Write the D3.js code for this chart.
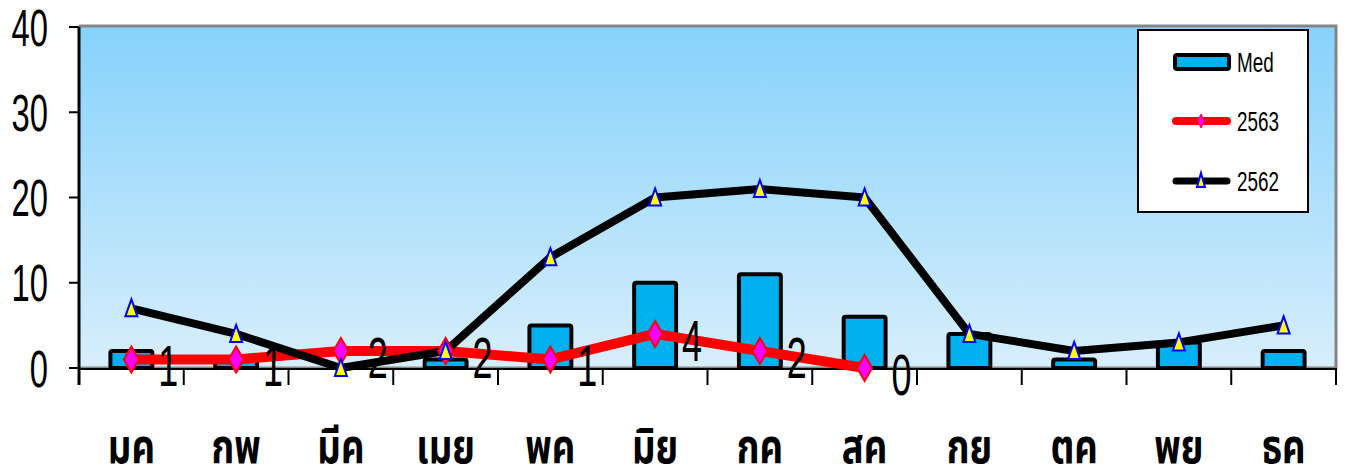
<!DOCTYPE html>
<html>
<head>
<meta charset="utf-8">
<script src="https://cdn.jsdelivr.net/npm/d3@7"></script>
<style>
  body { margin: 0; background: #fff; }
  svg { display: block; }
</style>
</head>
<body>
<script>
// ____ data
var months = ['มค', 'กพ', 'มีค', 'เมย', 'พค', 'มิย', 'กค', 'สค', 'กย', 'ตค', 'พย', 'ธค']
var med = [2, 1, 0, 1, 5, 10, 11, 6, 4, 1, 3, 2]
var y2563 = [1, 1, 2, 2, 1, 4, 2, 0]
var y2562 = [7, 4, 0, 2, 13, 20, 21, 20, 4, 2, 3, 5]
var yTicks = [0, 10, 20, 30, 40]
var legendItems = ['Med', '2563', '2562']

var width = 1345, height = 476
var plotLeft = 79, plotRight = 1336, plotTop = 27, plotBottom = 368
var numFont = '"Liberation Sans", Arial, sans-serif'

var svg = d3.select('body').append('svg')
    .attr('width', width)
    .attr('height', height)

var defs = svg.append('defs')
var grad = defs.append('linearGradient')
    .attr('id', 'bg')
    .attr('x1', 0).attr('y1', 0).attr('x2', 0).attr('y2', 1)
grad.append('stop').attr('offset', '0%').attr('stop-color', '#86d2fb')
grad.append('stop').attr('offset', '100%').attr('stop-color', '#d8eefc')

var x = d3.scaleBand()
    .domain(months)
    .range([plotLeft, plotRight])
    .paddingInner(0.6)
    .paddingOuter(0.3)
var step = x.step()
var cx = function (m) { return x(m) + x.bandwidth() / 2 }

var y = d3.scaleLinear()
    .domain([0, 40])
    .range([plotBottom, plotTop])

// plot area
svg.append('rect')
    .attr('x', plotLeft).attr('y', plotTop)
    .attr('width', plotRight - plotLeft).attr('height', plotBottom - plotTop)
    .style('fill', 'url(#bg)')

// gray frame top / right / bottom
svg.append('path')
    .attr('d', 'M' + plotLeft + ',' + (plotTop - 1) + 'H' + plotRight + 'V' + plotBottom + 'H' + plotLeft)
    .attr('fill', 'none')
    .attr('stroke', '#858585')
    .attr('stroke-width', 3)

// bars (zero months get no bar)
var barData = med.map(function (v, i) { return { m: months[i], v: v } })
    .filter(function (d) { return d.v > 0 })

svg.append('g').selectAll('rect')
    .data(barData)
  .enter().append('rect')
    .attr('x', function (d) { return x(d.m) })
    .attr('y', function (d) { return y(d.v) })
    .attr('width', x.bandwidth())
    .attr('height', function (d) { return plotBottom - y(d.v) })
    .attr('rx', 2)
    .style('fill', '#00b0ef')
    .style('stroke', '#000')
    .style('stroke-width', 4)
    .style('stroke-linejoin', 'round')

// axes
var yAxis = svg.append('g')
yAxis.append('line')
    .attr('x1', plotLeft).attr('x2', plotLeft)
    .attr('y1', plotTop).attr('y2', plotBottom + 17)
    .attr('stroke', '#000').attr('stroke-width', 3)
yAxis.selectAll('line.tick')
    .data(yTicks)
  .enter().append('line')
    .attr('class', 'tick')
    .attr('x1', plotLeft - 10).attr('x2', plotLeft)
    .attr('y1', function (d) { return y(d) })
    .attr('y2', function (d) { return y(d) })
    .attr('stroke', '#000').attr('stroke-width', 2)
yAxis.selectAll('text')
    .data(yTicks)
  .enter().append('text')
    .attr('transform', function (d) { return 'translate(48,' + y(d) + ') scale(0.63,1)' })
    .attr('text-anchor', 'end')
    .attr('dy', '0.36em')
    .style('font-family', numFont)
    .style('font-size', '52px')
    .text(function (d) { return d })

var xAxis = svg.append('g')
xAxis.append('line')
    .attr('x1', plotLeft).attr('x2', plotRight)
    .attr('y1', plotBottom + 1).attr('y2', plotBottom + 1)
    .attr('stroke', '#000').attr('stroke-width', 2)
xAxis.selectAll('line.tick')
    .data(d3.range(months.length + 1))
  .enter().append('line')
    .attr('class', 'tick')
    .attr('x1', function (i) { return plotLeft + i * step })
    .attr('x2', function (i) { return plotLeft + i * step })
    .attr('y1', plotBottom).attr('y2', plotBottom + 17)
    .attr('stroke', '#000').attr('stroke-width', 2)
xAxis.selectAll('text')
    .data(months)
  .enter().append('text')
    .attr('transform', function (d) { return 'translate(' + cx(d) + ',463) scale(0.76,1)' })
    .attr('text-anchor', 'middle')
    .style('font-family', '"Noto Sans Thai", "Noto Sans", sans-serif')
    .style('font-weight', 'bold')
    .style('font-size', '48px')
    .text(function (d) { return d })

// lines
var line = d3.line()
    .x(function (d, i) { return cx(months[i]) })
    .y(function (d) { return y(d) })

svg.append('path')
    .datum(y2563)
    .attr('d', line)
    .attr('fill', 'none')
    .attr('stroke', '#ff0000')
    .attr('stroke-width', 10)
    .attr('stroke-linejoin', 'round')

svg.append('path')
    .datum(y2562)
    .attr('d', line)
    .attr('fill', 'none')
    .attr('stroke', '#000')
    .attr('stroke-width', 8)
    .attr('stroke-linejoin', 'round')

var diamond = 'M0,-13L7.5,0L0,13L-7.5,0Z'
var triangle = 'M0,-9L6,8L-6,8Z'

svg.append('g').selectAll('path')
    .data(y2563)
  .enter().append('path')
    .attr('d', diamond)
    .attr('transform', function (d, i) { return 'translate(' + cx(months[i]) + ',' + y(d) + ')' })
    .attr('fill', '#ff00ff')
    .attr('stroke', '#ff0000')
    .attr('stroke-width', 2)

svg.append('g').selectAll('path')
    .data(y2562)
  .enter().append('path')
    .attr('d', triangle)
    .attr('transform', function (d, i) { return 'translate(' + cx(months[i]) + ',' + y(d) + ')' })
    .attr('fill', '#ffff00')
    .attr('stroke', '#0000ff')
    .attr('stroke-width', 2)

// data labels 2563
svg.append('g').selectAll('text')
    .data(y2563)
  .enter().append('text')
    .attr('transform', function (d, i) { return 'translate(' + (cx(months[i]) + 37) + ',' + (y(d) + 27) + ') scale(0.62,1)' })
    .attr('text-anchor', 'middle')
    .style('font-family', numFont)
    .style('font-size', '58px')
    .text(function (d) { return d })

// legend
var legend = svg.append('g')
legend.append('rect')
    .attr('x', 1138).attr('y', 30)
    .attr('width', 170).attr('height', 182)
    .attr('fill', '#fff')
    .attr('stroke', '#000')
    .attr('stroke-width', 2)

var ly = [62, 121, 181]
legend.append('rect')
    .attr('x', 1175).attr('y', ly[0] - 7)
    .attr('width', 54).attr('height', 14)
    .attr('rx', 2)
    .attr('fill', '#00b0ef')
    .attr('stroke', '#000')
    .attr('stroke-width', 4)
legend.append('line')
    .attr('x1', 1176).attr('x2', 1227)
    .attr('y1', ly[1]).attr('y2', ly[1])
    .attr('stroke', '#ff0000').attr('stroke-width', 8)
    .attr('stroke-linecap', 'round')
legend.append('path')
    .attr('d', 'M0,-7L3.5,0L0,7L-3.5,0Z')
    .attr('transform', 'translate(1201,' + ly[1] + ')')
    .attr('fill', '#ff00ff').attr('stroke', '#ff0000').attr('stroke-width', 1)
legend.append('line')
    .attr('x1', 1176).attr('x2', 1227)
    .attr('y1', ly[2]).attr('y2', ly[2])
    .attr('stroke', '#000').attr('stroke-width', 7)
    .attr('stroke-linecap', 'round')
legend.append('path')
    .attr('d', 'M0,-7L4,7L-4,7Z')
    .attr('transform', 'translate(1201,' + (ly[2] - 1) + ')')
    .attr('fill', '#ffff00').attr('stroke', '#0000ff').attr('stroke-width', 2)

legend.selectAll('text')
    .data(legendItems)
  .enter().append('text')
    .attr('transform', function (d, i) { return 'translate(1237,' + (ly[i] + 10) + ') scale(0.7,1)' })
    .style('font-family', numFont)
    .style('font-size', '27px')
    .text(function (d) { return d })
</script>
</body>
</html>
